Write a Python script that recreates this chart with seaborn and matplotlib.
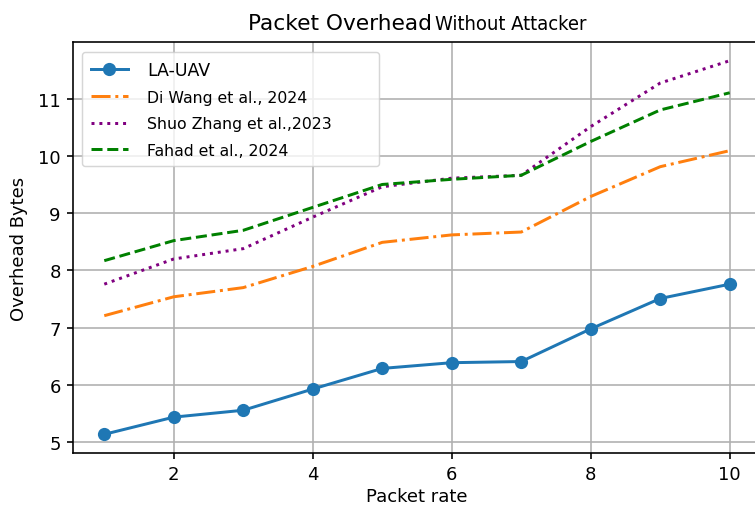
import matplotlib
matplotlib.use("Agg")
import matplotlib.pyplot as plt
import seaborn as sns
import numpy as np

# Packet rates on the x axis
packet_rate = [1, 2, 3, 4, 5, 6, 7, 8, 9, 10]

# Overhead (bytes) per scheme
la_uav = [5.14, 5.44, 5.56, 5.93, 6.29, 6.39, 6.41, 6.98, 7.51, 7.76]
di_wang = [7.21, 7.54, 7.70, 8.07, 8.49, 8.62, 8.67, 9.29, 9.81, 10.09]
shuo_zhang = [7.76, 8.20, 8.38, 8.93, 9.46, 9.61, 9.66, 10.51, 11.27, 11.66]
fahad = [8.17, 8.52, 8.70, 9.10, 9.50, 9.59, 9.66, 10.25, 10.80, 11.10]

labels = ["LA-UAV", "Di Wang et al., 2024", "Shuo Zhang et al.,2023", "Fahad et al., 2024"]
colors = ["#1f77b4", "#ff7f0e", "purple", "green"]
styles = ["-", "-.", ":", "--"]
markers = ["o", None, None, None]

S = 1.3  # overall scale of line widths and fonts

fig = plt.figure(figsize=(7.55, 5.06), dpi=100)
ax = fig.add_axes([73 / 755, 52 / 506, (761 - 73) / 755, (454 - 43) / 506])

for series, lab, col, ls, mk in zip([la_uav, di_wang, shuo_zhang, fahad], labels, colors, styles, markers):
    sns.lineplot(x=packet_rate, y=series, ax=ax, color=col, linestyle=ls,
                 marker=mk, markersize=9.5, markeredgewidth=0,
                 linewidth=1.65 * S, label=lab)

ax.set_xticks([2, 4, 6, 8, 10])
ax.set_yticks([5, 6, 7, 8, 9, 10, 11])
ax.grid(True, color="#b0b0b0", linewidth=0.9 * S)
ax.set_axisbelow(True)
for sp in ax.spines.values():
    sp.set_linewidth(0.9 * S)
ax.tick_params(labelsize=10 * S, length=4.3, width=0.9 * S, pad=3.5 * S)
ax.set_xlabel("Packet rate", fontsize=10 * S, labelpad=2.5)
ax.set_ylabel("Overhead Bytes", fontsize=10 * S, labelpad=7.5)

# Legend box spans a fixed width in the upper-left corner
x0 = (82 - 73) / (761 - 73)
y1 = (454 - 53) / (454 - 43)
w = (379 - 82) / (761 - 73)
leg = ax.legend(loc="upper left", bbox_to_anchor=(x0, y1 - 0.3, w, 0.3),
                mode="expand", borderaxespad=0, fontsize=11.3, frameon=True,
                borderpad=0.55, labelspacing=0.72, handlelength=2.4,
                handletextpad=1.2)
leg.get_frame().set_linewidth(0.8 * S)
leg.get_texts()[0].set_fontsize(12.5)

# Title in two parts
fig.text(432 / 755, 1 - 29.5 / 506, "Packet Overhead", fontsize=12 * S,
         ha="right", va="baseline", family="DejaVu Sans")
fig.text(435 / 755, 1 - 29.5 / 506, "Without Attacker", fontsize=14.5,
         ha="left", va="baseline", family="DejaVu Sans", fontstretch="condensed")

fig.savefig("out.png", dpi=100)
